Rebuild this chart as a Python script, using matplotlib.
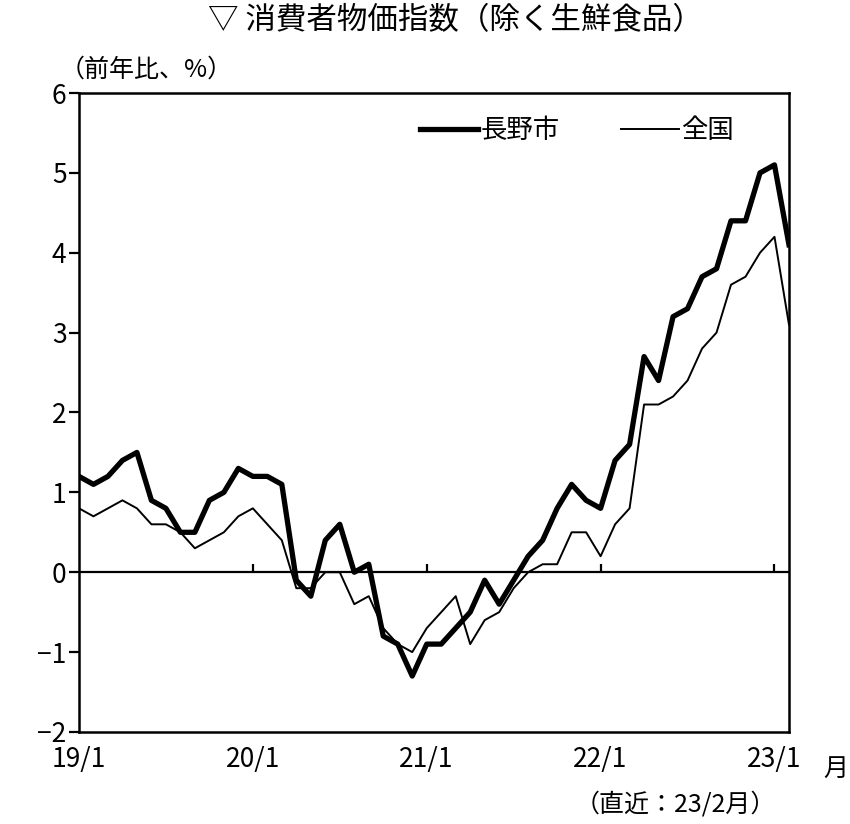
import matplotlib
matplotlib.use('Agg')
import matplotlib.pyplot as plt

plt.rcParams['font.family'] = ['Noto Sans CJK JP', 'DejaVu Sans']

# months since 19/1 (last point = 23/2)
months = list(range(50))
tick_pos = [0, 12, 24, 36, 48]
tick_labels = ['19/1', '20/1', '21/1', '22/1', '23/1']

# 長野市 (thick)
nagano = [1.2, 1.1, 1.2, 1.4, 1.5, 0.9, 0.8, 0.5, 0.5, 0.9, 1.0, 1.3,
          1.2, 1.2, 1.1, -0.1, -0.3, 0.4, 0.6, 0.0, 0.1, -0.8, -0.9, -1.3,
          -0.9, -0.9, -0.7, -0.5, -0.1, -0.4, -0.1, 0.2, 0.4, 0.8, 1.1, 0.9,
          0.8, 1.4, 1.6, 2.7, 2.4, 3.2, 3.3, 3.7, 3.8, 4.4, 4.4, 5.0,
          5.1, 4.1]
# 全国 (thin)
zenkoku = [0.8, 0.7, 0.8, 0.9, 0.8, 0.6, 0.6, 0.5, 0.3, 0.4, 0.5, 0.7,
           0.8, 0.6, 0.4, -0.2, -0.2, 0.0, 0.0, -0.4, -0.3, -0.7, -0.9, -1.0,
           -0.7, -0.5, -0.3, -0.9, -0.6, -0.5, -0.2, 0.0, 0.1, 0.1, 0.5, 0.5,
           0.2, 0.6, 0.8, 2.1, 2.1, 2.2, 2.4, 2.8, 3.0, 3.6, 3.7, 4.0,
           4.2, 3.1]

fig = plt.figure(figsize=(8.5, 8.24), dpi=100)
ax = fig.add_axes([0.0929, 0.1117, 0.8353, 0.7754])

ax.plot(months, nagano, color='black', lw=3.8, label='長野市')
ax.plot(months, zenkoku, color='black', lw=1.4, label='全国')

# zero line with small ticks standing on it
ax.axhline(0, color='black', lw=1.6, zorder=1)
ax.vlines(tick_pos[1:], 0, 0.1, color='black', lw=1.6)

ax.set_xlim(0, 49)
ax.set_ylim(-2, 6)
ax.set_xticks(tick_pos)
ax.set_xticklabels(tick_labels, fontsize=19)
ax.set_yticks(range(-2, 7))
ax.tick_params(axis='x', length=0, pad=10)
ax.tick_params(axis='y', length=7, width=1.6, labelsize=19, pad=2)
for s in ax.spines.values():
    s.set_linewidth(1.8)

ax.legend(loc='upper left', bbox_to_anchor=(420 / 850, 1 - 117 / 824),
          bbox_transform=fig.transFigure, ncol=2, frameon=False, fontsize=19,
          handlelength=2.2, handletextpad=0.1, columnspacing=2.3,
          borderpad=0, borderaxespad=0)

fig.text(455 / 850, 1 - 21 / 824, '▽ 消費者物価指数（除く生鮮食品）',
         ha='center', va='center', fontsize=22)
fig.text(60 / 850, 1 - 70 / 824, '（前年比、%）', ha='left', va='center', fontsize=18)
fig.text(836 / 850, 1 - 769 / 824, '月', ha='center', va='center', fontsize=18)
fig.text(776 / 850, 1 - 805 / 824, '（直近：23/2月）', ha='right', va='center', fontsize=18)

fig.savefig('out.png', dpi=100)
